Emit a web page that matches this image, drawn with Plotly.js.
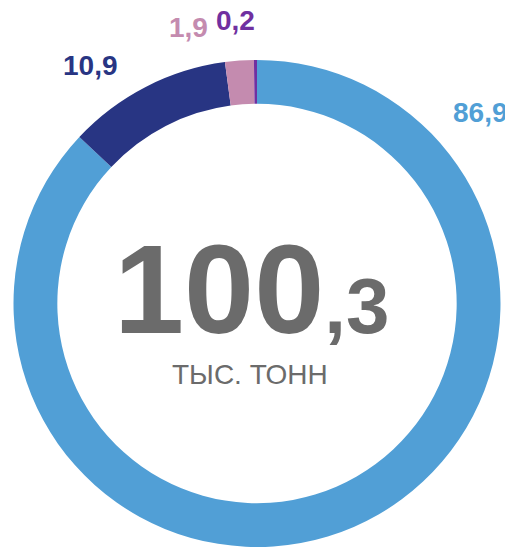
<!DOCTYPE html>
<html>
<head>
<meta charset="utf-8">
<script src="https://cdn.plot.ly/plotly-3.0.1.min.js"></script>
<style>html,body{margin:0;padding:0;background:#fff;}#chart{width:505px;height:547px;}</style>
</head>
<body>
<div id="chart"></div>
<script>
const categories = ['A', 'B', 'C', 'D'];
const values = [86.9, 10.9, 1.9, 0.2];
const colors = ['#519fd6', '#283583', '#c48baf', '#7030a0'];
const valueLabels = ['86,9', '10,9', '1,9', '0,2'];
const totalMain = '100';
const totalDecimal = ',3';
const unitLabel = 'ТЫС. ТОНН';

const W = 505, H = 547;
const px = x => x / W;
const py = y => 1 - y / H;

const labelPos = [[480, 113], [90, 65], [188, 27], [235, 20]];

const annotations = valueLabels.map((t, i) => ({
  text: '<b>' + t + '</b>',
  x: px(labelPos[i][0]), y: py(labelPos[i][1]),
  xref: 'paper', yref: 'paper', xanchor: 'center', yanchor: 'middle',
  showarrow: false,
  font: {family: 'Liberation Sans, Arial, sans-serif', size: 28, color: colors[i]}
}));

annotations.push({
  text: '<b>' + totalMain + '<span style="font-size:78px">' + totalDecimal + '</span></b>',
  x: px(251), y: py(289), xref: 'paper', yref: 'paper',
  xanchor: 'center', yanchor: 'middle', showarrow: false,
  font: {family: 'Liberation Sans, Arial, sans-serif', size: 126, color: '#6b6b6b'}
});
annotations.push({
  text: unitLabel,
  x: px(250), y: py(374), xref: 'paper', yref: 'paper',
  xanchor: 'center', yanchor: 'middle', showarrow: false,
  font: {family: 'Liberation Sans, Arial, sans-serif', size: 28, color: '#6b6b6b'}
});

const trace = {
  type: 'pie',
  labels: categories,
  values: values,
  marker: {colors: colors, line: {width: 0}},
  hole: 0.82,
  sort: false,
  direction: 'clockwise',
  rotation: 0,
  textinfo: 'none',
  hoverinfo: 'none',
  showlegend: false,
  domain: {x: [13 / W, 501 / W], y: [0, 487 / H]}
};

Plotly.newPlot('chart', [trace], {
  width: W, height: H,
  margin: {l: 0, r: 0, t: 0, b: 0},
  paper_bgcolor: '#fff', plot_bgcolor: '#fff',
  showlegend: false,
  annotations: annotations
}, {displayModeBar: false, staticPlot: true});
</script>
</body>
</html>
